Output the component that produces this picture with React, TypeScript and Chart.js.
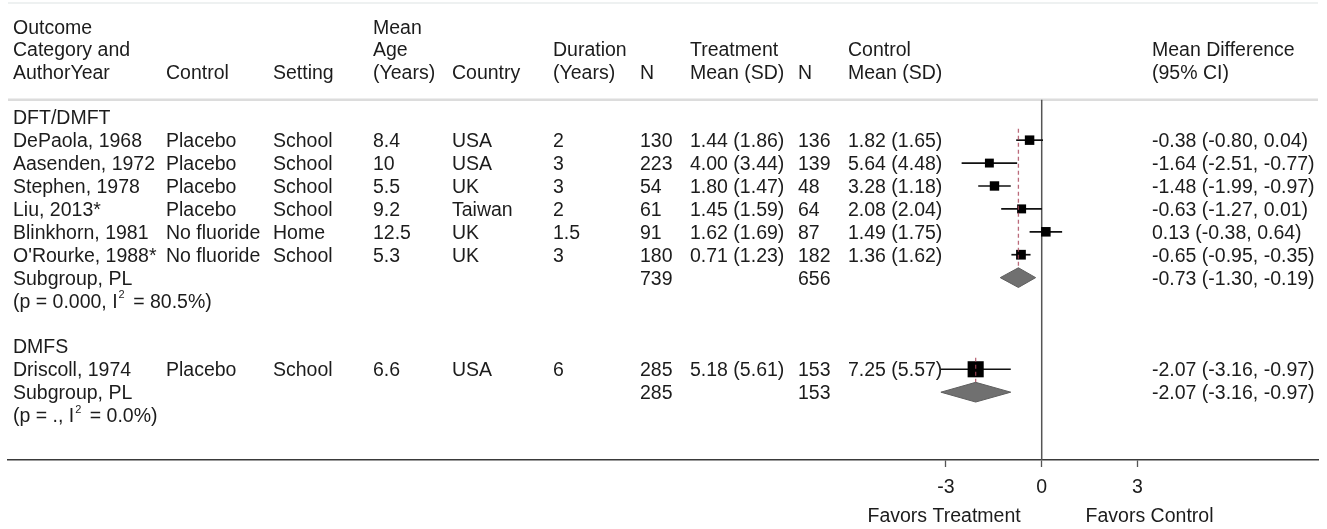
import React, { useEffect, useRef } from 'react';
import { Chart, registerables } from 'chart.js';

Chart.register(...registerables);

// ---------------- data ----------------
const GROUPS = ['DFT/DMFT', 'DMFS'];
const STUDY_NAMES = ['DePaola, 1968', 'Aasenden, 1972', 'Stephen, 1978', 'Liu, 2013*', 'Blinkhorn, 1981', "O'Rourke, 1988*", 'Driscoll, 1974'];
const STUDY_GROUP = [0, 0, 0, 0, 0, 0, 1];
const CONTROL = ['Placebo', 'Placebo', 'Placebo', 'Placebo', 'No fluoride', 'No fluoride', 'Placebo'];
const SETTING = ['School', 'School', 'School', 'School', 'Home', 'School', 'School'];
const MEAN_AGE = [8.4, 10, 5.5, 9.2, 12.5, 5.3, 6.6];
const COUNTRY = ['USA', 'USA', 'UK', 'Taiwan', 'UK', 'UK', 'USA'];
const DURATION = [2, 3, 3, 2, 1.5, 3, 6];
const TRT_N = [130, 223, 54, 61, 91, 180, 285];
const TRT_MEAN = [1.44, 4.0, 1.8, 1.45, 1.62, 0.71, 5.18];
const TRT_SD = [1.86, 3.44, 1.47, 1.59, 1.69, 1.23, 5.61];
const CTRL_N = [136, 139, 48, 64, 87, 182, 153];
const CTRL_MEAN = [1.82, 5.64, 3.28, 2.08, 1.49, 1.36, 7.25];
const CTRL_SD = [1.65, 4.48, 1.18, 2.04, 1.75, 1.62, 5.57];
const MD = [-0.38, -1.64, -1.48, -0.63, 0.13, -0.65, -2.07];
const MD_LO = [-0.8, -2.51, -1.99, -1.27, -0.38, -0.95, -3.16];
const MD_HI = [0.04, -0.77, -0.97, 0.01, 0.64, -0.35, -0.97];
const WEIGHT = [18.0, 14.0, 17.5, 14.5, 18.5, 20.0, 100];

const SUB_LABEL = ['Subgroup, PL', 'Subgroup, PL'];
const SUB_TRT_N = [739, 285];
const SUB_CTRL_N = [656, 153];
const SUB_MD = [-0.73, -2.07];
const SUB_LO = [-1.3, -3.16];
const SUB_HI = [-0.19, -0.97];
const SUB_P = ['0.000', '.'];
const SUB_I2 = ['80.5', '0.0'];

const HEADER = [
  ['Outcome', 'Category and', 'AuthorYear'],
  ['', '', 'Control'],
  ['', '', 'Setting'],
  ['Mean', 'Age', '(Years)'],
  ['', '', 'Country'],
  ['', 'Duration', '(Years)'],
  ['', '', 'N'],
  ['', 'Treatment', 'Mean (SD)'],
  ['', '', 'N'],
  ['', 'Control', 'Mean (SD)'],
  ['', 'Mean Difference', '(95% CI)'],
];

const X_TICKS = [-3, 0, 3];
const X_LABELS = ['Favors Treatment', 'Favors Control'];

// ---------------- layout / style ----------------
const W = 1327;
const H = 529;
const COL_X = [13, 166, 273, 373, 452, 553, 640, 690, 798, 848, 1152];
const HEADER_ROWS = [-3.95, -2.97, -1.99];
const X_MIN = -32.4;
const X_MAX = 8.66;
const Y_MIN = -5.015;
const Y_MAX = 14.96;
const SEP_ROW = -0.76;
const X_LABEL_AT = [-3.06, 3.38];
const FONT_FAMILY = '"Liberation Sans", Arial, Helvetica, sans-serif';
const FONT_SIZE = 19.5;
const TEXT_COLOR = '#1c1c1c';

const f2 = (v: number) => v.toFixed(2);
const ciText = (m: number, lo: number, hi: number) => `${f2(m)} (${f2(lo)}, ${f2(hi)})`;

// build rows
type Cell = { col: number; row: number; text: string };
const cells: Cell[] = [];
HEADER.forEach((lines, c) => lines.forEach((t, k) => { if (t) cells.push({ col: c, row: HEADER_ROWS[k], text: t }); }));

const studyRow: number[] = [];
const subRow: number[] = [];
const groupFirstRow: number[] = [];
let r = 0;
GROUPS.forEach((g, gi) => {
  cells.push({ col: 0, row: r, text: g });
  r++;
  groupFirstRow[gi] = r;
  STUDY_NAMES.forEach((name, i) => {
    if (STUDY_GROUP[i] !== gi) return;
    studyRow[i] = r;
    const vals = [
      name, CONTROL[i], SETTING[i], String(MEAN_AGE[i]), COUNTRY[i], String(DURATION[i]),
      String(TRT_N[i]), `${f2(TRT_MEAN[i])} (${f2(TRT_SD[i])})`, String(CTRL_N[i]),
      `${f2(CTRL_MEAN[i])} (${f2(CTRL_SD[i])})`, ciText(MD[i], MD_LO[i], MD_HI[i]),
    ];
    vals.forEach((t, c) => cells.push({ col: c, row: r, text: t }));
    r++;
  });
  subRow[gi] = r;
  cells.push({ col: 0, row: r, text: SUB_LABEL[gi] });
  cells.push({ col: 6, row: r, text: String(SUB_TRT_N[gi]) });
  cells.push({ col: 8, row: r, text: String(SUB_CTRL_N[gi]) });
  cells.push({ col: 10, row: r, text: ciText(SUB_MD[gi], SUB_LO[gi], SUB_HI[gi]) });
  r++;
  cells.push({ col: 0, row: r, text: `(p = ${SUB_P[gi]}, I^2 = ${SUB_I2[gi]}%)` });
  r += 2;
});

const font = (s: number) => `${s}px ${FONT_FAMILY}`;

const tablePlugin = {
  id: 'tableText',
  afterDraw(chart: any) {
    const { ctx, scales, chartArea } = chart;
    const ys = scales.y;
    const xs = scales.x;
    ctx.save();
    ctx.fillStyle = TEXT_COLOR;
    ctx.textBaseline = 'alphabetic';
    ctx.textAlign = 'left';
    cells.forEach((c) => {
      const y = ys.getPixelForValue(c.row) + 7;
      const parts = c.text.split('^2');
      let x = COL_X[c.col];
      parts.forEach((p, k) => {
        ctx.font = font(FONT_SIZE);
        ctx.fillText(p, x, y);
        x += ctx.measureText(p).width;
        if (k < parts.length - 1) {
          ctx.font = font(11);
          ctx.fillText('2', x + 1, y - 9.5);
          x += ctx.measureText('2').width + 4;
        }
      });
    });
    ctx.font = font(FONT_SIZE);
    ctx.textAlign = 'center';
    X_LABELS.forEach((t, i) => {
      ctx.fillText(t, xs.getPixelForValue(X_LABEL_AT[i]), chartArea.bottom + 62);
    });
    ctx.restore();
  },
};

const seg = (pts: { x: number; y: number }[], color: string, width: number, order: number, extra: any = {}) => ({
  data: pts,
  borderColor: color,
  borderWidth: width,
  pointRadius: 0,
  fill: false,
  clip: false as any,
  order,
  ...extra,
});

function buildDatasets() {
  const ds: any[] = [];
  // top faint border line
  ds.push(seg([{ x: X_MIN, y: Y_MIN + 0.03 }, { x: X_MAX, y: Y_MIN + 0.03 }], '#eef1f1', 2, 6));
  // header separator
  ds.push(seg([{ x: X_MIN, y: SEP_ROW }, { x: X_MAX, y: SEP_ROW }], '#dcdcdc', 2.5, 6));
  // zero line
  ds.push(seg([{ x: 0, y: SEP_ROW }, { x: 0, y: Y_MAX }], '#555555', 1.5, 5));
  // whiskers
  MD.forEach((_, i) => {
    ds.push(seg([{ x: MD_LO[i], y: studyRow[i] }, { x: MD_HI[i], y: studyRow[i] }], '#111111', 1.7, 4));
  });
  // squares
  ds.push({
    data: MD.map((m, i) => ({ x: m, y: studyRow[i] })),
    showLine: false,
    pointStyle: 'rect',
    pointRadius: WEIGHT.map((w) => (4.6 + 1.15 * Math.sqrt(w)) / Math.SQRT2),
    pointBackgroundColor: '#000000',
    pointBorderWidth: 0,
    borderWidth: 0,
    clip: false,
    order: 3,
  });
  // pooled dashed lines
  SUB_MD.forEach((m, g) => {
    ds.push(seg([{ x: m, y: groupFirstRow[g] - 0.5 }, { x: m, y: subRow[g] + 0.43 }], 'rgba(170, 70, 90, 0.8)', 1.3, 2, { borderDash: [4, 3] }));
  });
  // diamonds
  SUB_MD.forEach((m, g) => {
    const y = subRow[g];
    const h = 0.43;
    ds.push({
      data: [
        { x: SUB_LO[g], y }, { x: m, y: y - h }, { x: SUB_HI[g], y }, { x: m, y: y + h }, { x: SUB_LO[g], y },
      ],
      borderColor: '#5e5e5e',
      borderWidth: 1,
      backgroundColor: '#707070',
      fill: 'shape',
      pointRadius: 0,
      clip: false,
      order: 1,
    });
  });
  return ds;
}

export default function App() {
  const ref = useRef<HTMLCanvasElement>(null);
  useEffect(() => {
    if (!ref.current) return;
    const chart = new Chart(ref.current, {
      type: 'line',
      data: { datasets: buildDatasets() },
      plugins: [tablePlugin],
      options: {
        responsive: false,
        animation: false,
        events: [],
        layout: { autoPadding: false, padding: { left: 8, right: 9, top: 2.35, bottom: 0 } },
        plugins: { legend: { display: false }, tooltip: { enabled: false } },
        elements: { line: { tension: 0 } },
        scales: {
          x: {
            type: 'linear',
            min: X_MIN,
            max: X_MAX,
            afterBuildTicks: (s: any) => { s.ticks = X_TICKS.map((v) => ({ value: v })); },
            afterFit: (s: any) => { s.height = 69; },
            ticks: {
              autoSkip: false,
              maxRotation: 0,
              padding: 9,
              color: TEXT_COLOR,
              font: { family: FONT_FAMILY, size: FONT_SIZE },
              callback: (v: any) => String(v),
            },
            grid: { drawOnChartArea: false, drawTicks: true, tickLength: 7, color: '#555555', tickWidth: 1.3 },
            border: { display: true, color: '#3a3a3a', width: 1.5 },
          },
          y: { type: 'linear', display: false, reverse: true, min: Y_MIN, max: Y_MAX },
        },
      } as any,
    });
    return () => chart.destroy();
  }, []);
  return (
    <div style={{ position: 'absolute', left: 0, top: 0, width: W, height: H, background: '#ffffff' }}>
      <canvas ref={ref} width={W} height={H} style={{ display: 'block', width: W, height: H }} />
    </div>
  );
}
